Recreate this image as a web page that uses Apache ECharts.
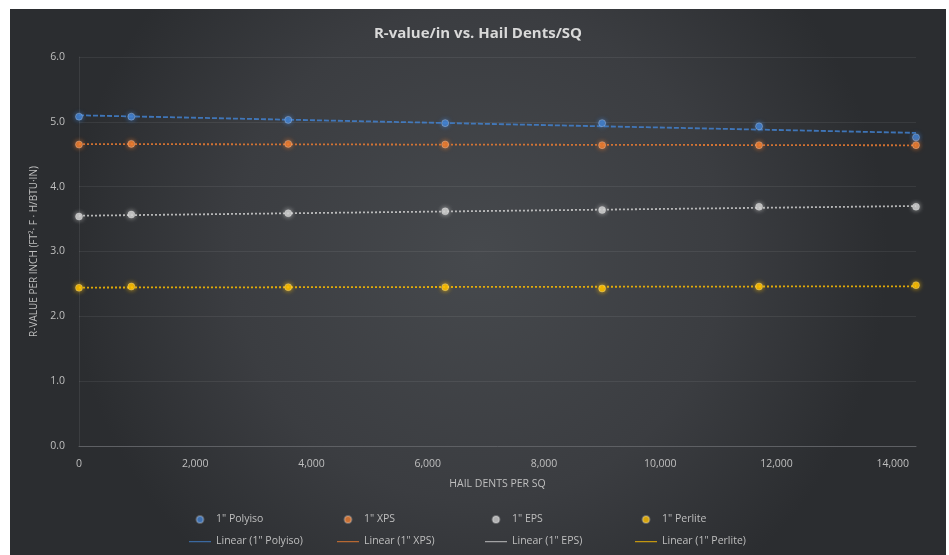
<!DOCTYPE html>
<html><head><meta charset="utf-8">
<script src="https://cdn.jsdelivr.net/npm/echarts@6/dist/echarts.min.js"></script>
<style>
html,body{margin:0;padding:0;background:#ffffff;width:949px;height:555px;overflow:hidden;}
#c{position:absolute;left:10px;top:9px;width:936px;height:546px;}
</style></head>
<body><div id="c"></div>
<script>
// Data
var hailDents = [0, 900, 3600, 6300, 9000, 11700, 14400];
var polyiso  = [5.08, 5.08, 5.03, 4.98, 4.98, 4.93, 4.76];
var xps      = [4.65, 4.66, 4.66, 4.65, 4.64, 4.64, 4.64];
var eps      = [3.54, 3.57, 3.59, 3.62, 3.64, 3.69, 3.69];
var perlite  = [2.44, 2.46, 2.45, 2.45, 2.43, 2.46, 2.48];
var seriesNames = ['1" Polyiso', '1" XPS', '1" EPS', '1" Perlite'];
var trendNames = ['Linear (1" Polyiso)', 'Linear (1" XPS)', 'Linear (1" EPS)', 'Linear (1" Perlite)'];
var xTicks = [0, 2000, 4000, 6000, 8000, 10000, 12000, 14000];
var yTicks = [0, 1, 2, 3, 4, 5, 6];

var colors = ['#4281cf', '#ee7d31', '#cfcfcf', '#ffc000'];
var allValues = [polyiso, xps, eps, perlite];

function pairs(xs, ys){ return xs.map(function(x,i){return [x, ys[i]];}); }
function trend(xs, ys){
  var n = xs.length, sx=0, sy=0, sxx=0, sxy=0;
  for (var i=0;i<n;i++){ sx+=xs[i]; sy+=ys[i]; sxx+=xs[i]*xs[i]; sxy+=xs[i]*ys[i]; }
  var b = (n*sxy - sx*sy)/(n*sxx - sx*sx);
  var a = (sy - b*sx)/n;
  var x0 = xs[0], x1 = xs[n-1];
  return [[x0, a+b*x0],[x1, a+b*x1]];
}

var series = [];
var trendTypes = [[5,2], [2,2], [2,2], [2,2]];
allValues.forEach(function(vals, k){
  series.push({
    name: trendNames[k], type: 'line', data: trend(hailDents, vals),
    showSymbol: false, symbol: 'none', z: 2,
    lineStyle: {color: colors[k], width: 1.8, type: trendTypes[k], opacity: 0.85},
    itemStyle: {color: colors[k], opacity: 0.7}
  });
});
allValues.forEach(function(vals, k){
  series.push({
    name: seriesNames[k], type: 'scatter', data: pairs(hailDents, vals),
    symbolSize: 7, z: 3,
    itemStyle: {color: colors[k], shadowBlur: 5, shadowColor: colors[k], borderColor: 'rgba(255,255,255,0.3)', borderWidth: 1}
  });
});

var lineIcon = 'path://M0,0 L0.01,0 L0.01,0.01 Z M0,3 L22,3 L22,4.3 L0,4.3 Z M0,7 L0.01,7 L0.01,6.99 Z';
var legendLefts = [179, 327, 475, 625];
var legends = legendLefts.map(function(l, k){
  return {
    left: l, top: 505, orient: 'vertical', itemGap: 11, padding: 0,
    itemWidth: 22, itemHeight: 7,
    textStyle: {color: '#bfbfbf', fontSize: 10.5, fontFamily: 'Open Sans'},
    data: [
      {name: seriesNames[k], icon: 'circle'},
      {name: trendNames[k], icon: lineIcon}
    ]
  };
});

var chart = echarts.init(document.getElementById('c'), null, {renderer: 'canvas'});
chart.setOption({
  animation: false,
  backgroundColor: {
    type: 'radial', x: 0.5, y: 0.45, r: 0.75,
    colorStops: [{offset: 0, color: '#46494d'}, {offset: 0.6, color: '#3b3d41'}, {offset: 1, color: '#2b2d30'}]
  },
  title: {
    text: 'R-value/in vs. Hail Dents/SQ', left: 'center', top: 12,
    textStyle: {color: '#d9d9d9', fontSize: 15, fontWeight: 'bold', fontFamily: 'Open Sans'}
  },
  legend: legends,
  grid: {left: 69, right: 30, top: 48, bottom: 109},
  xAxis: {
    type: 'value', min: 0, max: 14400, interval: 2000,
    name: 'HAIL DENTS PER SQ', nameLocation: 'middle', nameGap: 33,
    nameTextStyle: {color: '#bfbfbf', fontSize: 10.5, fontFamily: 'Open Sans'},
    axisLine: {show: true, lineStyle: {color: '#5e6064', width: 1}},
    axisTick: {show: false},
    splitLine: {show: false},
    axisLabel: {
      color: '#bfbfbf', fontSize: 10.5, fontFamily: 'Open Sans', margin: 13,
      showMaxLabel: false,
      formatter: function(v){ return xTicks.indexOf(v) >= 0 ? v.toLocaleString('en-US') : ''; }
    }
  },
  yAxis: {
    type: 'value', min: yTicks[0], max: yTicks[yTicks.length-1], interval: 1,
    name: 'R-VALUE PER INCH (FT²· F · H/BTU·IN)', nameLocation: 'middle', nameGap: 40,
    nameTextStyle: {color: '#bfbfbf', fontSize: 10, fontFamily: 'Open Sans'},
    axisLine: {show: true, lineStyle: {color: 'rgba(255,255,255,0.08)'}},
    axisTick: {show: false},
    splitLine: {show: true, lineStyle: {color: 'rgba(255,255,255,0.07)', width: 1}},
    axisLabel: {color: '#bfbfbf', fontSize: 10.5, fontFamily: 'Open Sans', margin: 14,
      formatter: function(v){ return v.toFixed(1); }}
  },
  series: series
});
</script></body></html>
